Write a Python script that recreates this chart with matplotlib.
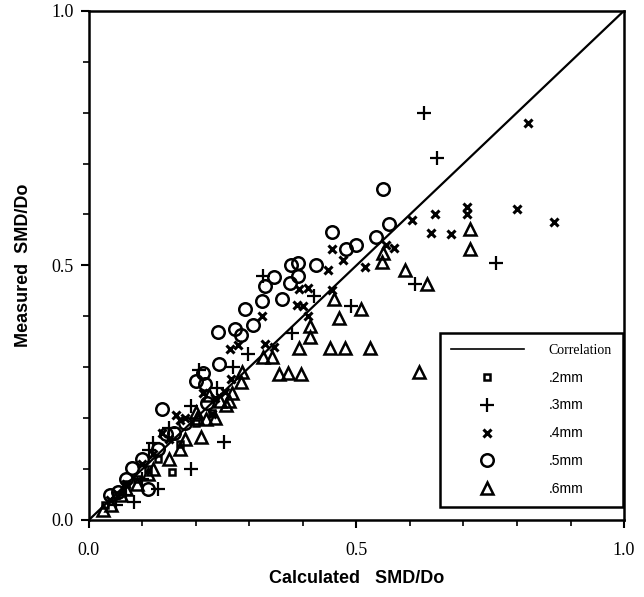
import numpy as np
import matplotlib
matplotlib.use('Agg')
import matplotlib.pyplot as plt
from matplotlib.lines import Line2D

# calculated vs measured SMD/Do for each nozzle size
x_02 = [0.03, 0.05, 0.07, 0.09, 0.11, 0.13, 0.155, 0.17, 0.20, 0.23]
y_02 = [0.03, 0.05, 0.07, 0.08, 0.10, 0.12, 0.095, 0.15, 0.19, 0.21]

x_03 = [0.626, 0.65, 0.76, 0.61, 0.325, 0.49, 0.379, 0.297, 0.205, 0.19, 0.253,
        0.19, 0.119, 0.112, 0.13, 0.085, 0.05, 0.07, 0.15, 0.24, 0.27, 0.42, 0.10]
y_03 = [0.80, 0.71, 0.505, 0.463, 0.48, 0.42, 0.367, 0.326, 0.295, 0.223, 0.153,
        0.10, 0.152, 0.138, 0.06, 0.035, 0.03, 0.05, 0.18, 0.26, 0.30, 0.44, 0.08]

x_04 = [0.82, 0.80, 0.87, 0.706, 0.706, 0.647, 0.64, 0.676, 0.603, 0.571, 0.555,
        0.455, 0.475, 0.516, 0.447, 0.393, 0.41, 0.455, 0.389, 0.40, 0.323, 0.41,
        0.263, 0.279, 0.33, 0.345, 0.266, 0.255, 0.236, 0.213, 0.23, 0.162, 0.17,
        0.18, 0.137, 0.10, 0.07, 0.04, 0.12, 0.15]
y_04 = [0.78, 0.61, 0.585, 0.615, 0.60, 0.60, 0.564, 0.562, 0.59, 0.535, 0.54,
        0.533, 0.51, 0.497, 0.49, 0.453, 0.456, 0.452, 0.423, 0.42, 0.40, 0.40,
        0.336, 0.343, 0.345, 0.34, 0.277, 0.252, 0.24, 0.25, 0.209, 0.207, 0.197,
        0.20, 0.17, 0.11, 0.07, 0.04, 0.13, 0.16]

x_05 = [0.55, 0.56, 0.454, 0.537, 0.48, 0.50, 0.378, 0.39, 0.425, 0.345, 0.33,
        0.375, 0.39, 0.361, 0.292, 0.324, 0.307, 0.242, 0.273, 0.285, 0.244,
        0.214, 0.20, 0.217, 0.137, 0.144, 0.081, 0.111, 0.054, 0.16, 0.18, 0.10,
        0.07, 0.04, 0.22, 0.13]
y_05 = [0.65, 0.582, 0.565, 0.556, 0.533, 0.54, 0.50, 0.505, 0.50, 0.477, 0.46,
        0.466, 0.48, 0.433, 0.415, 0.43, 0.382, 0.37, 0.376, 0.363, 0.307,
        0.288, 0.272, 0.268, 0.217, 0.168, 0.103, 0.06, 0.055, 0.17, 0.19, 0.12,
        0.08, 0.05, 0.23, 0.14]

x_06 = [0.713, 0.713, 0.59, 0.632, 0.617, 0.55, 0.547, 0.458, 0.508, 0.467,
        0.413, 0.413, 0.392, 0.45, 0.478, 0.525, 0.356, 0.372, 0.397, 0.325,
        0.343, 0.287, 0.284, 0.267, 0.245, 0.225, 0.256, 0.262, 0.20, 0.202,
        0.218, 0.236, 0.21, 0.026, 0.041, 0.06, 0.09, 0.12, 0.15, 0.17, 0.18,
        0.07, 0.11]
y_06 = [0.572, 0.533, 0.49, 0.463, 0.29, 0.525, 0.506, 0.433, 0.415, 0.396,
        0.38, 0.36, 0.338, 0.338, 0.338, 0.338, 0.286, 0.288, 0.286, 0.32,
        0.32, 0.29, 0.27, 0.249, 0.233, 0.246, 0.226, 0.233, 0.212, 0.20,
        0.198, 0.20, 0.163, 0.019, 0.029, 0.05, 0.07, 0.10, 0.12, 0.14, 0.16,
        0.06, 0.09]

corr_x = [0.0, 1.0]
corr_y = [0.0, 1.0]

fig = plt.figure(figsize=(6.44, 5.97), dpi=100)
ax = fig.add_axes([0.138, 0.129, 0.831, 0.853])

ax.plot(corr_x, corr_y, color='black', lw=1.6, zorder=1)

mk = dict(linestyle='none', color='black', markerfacecolor='none', zorder=2)
ax.plot(x_02, y_02, marker='s', ms=5, mew=1.8, **mk)
ax.plot(x_03, y_03, marker='+', ms=10, mew=1.6, **mk)
ax.plot(x_04, y_04, marker='x', ms=6, mew=2.2, **mk)
ax.plot(x_05, y_05, marker='o', ms=9, mew=1.8, **mk)
ax.plot(x_06, y_06, marker='^', ms=8, mew=1.8, **mk)

ax.set_xlim(0, 1)
ax.set_ylim(0, 1)
for s in ax.spines.values():
    s.set_linewidth(1.8)

serif = 'Liberation Serif'
ax.set_xticks([0, 0.5, 1.0])
ax.set_yticks([0, 0.5, 1.0])
ax.set_xticks(np.arange(0, 1.01, 0.1), minor=True)
ax.set_yticks(np.arange(0, 1.01, 0.1), minor=True)
ax.set_xticklabels(['0.0', '0.5', '1.0'], family=serif, fontsize=13)
ax.set_yticklabels(['0.0', '0.5', '1.0'], family=serif, fontsize=13)
ax.tick_params(which='major', direction='out', length=6, width=1.5)
ax.tick_params(axis='x', which='major', pad=10)
ax.tick_params(axis='y', which='major', pad=5)
ax.tick_params(which='minor', direction='out', length=4, width=1.2)

ax.set_xlabel('Calculated   SMD/Do', family='Liberation Sans', fontweight='bold',
              fontsize=13, labelpad=8)
ax.set_ylabel('Measured  SMD/Do', family='Liberation Sans', fontweight='bold',
              fontsize=13, labelpad=14)

handles = [
    Line2D([], [], color='black', lw=1.2),
    Line2D([], [], marker='s', ms=5, mew=1.8, **mk),
    Line2D([], [], marker='+', ms=10, mew=1.6, **mk),
    Line2D([], [], marker='x', ms=6, mew=2.2, **mk),
    Line2D([], [], marker='o', ms=9, mew=1.8, **mk),
    Line2D([], [], marker='^', ms=8, mew=1.8, **mk),
]
labels = ['Correlation', '.2mm', '.3mm', '.4mm', '.5mm', '.6mm']
leg = ax.legend(handles, labels, loc='lower right', bbox_to_anchor=(0.998, 0.025),
                fancybox=False, edgecolor='black', framealpha=1,
                handlelength=5.2, handletextpad=1.8, labelspacing=1.0,
                borderpad=0.8, borderaxespad=0,
                prop={'family': 'Liberation Sans', 'size': 10})
leg.get_frame().set_linewidth(1.8)
leg.get_texts()[0].set_family(serif)

fig.savefig('out.png', dpi=100)
